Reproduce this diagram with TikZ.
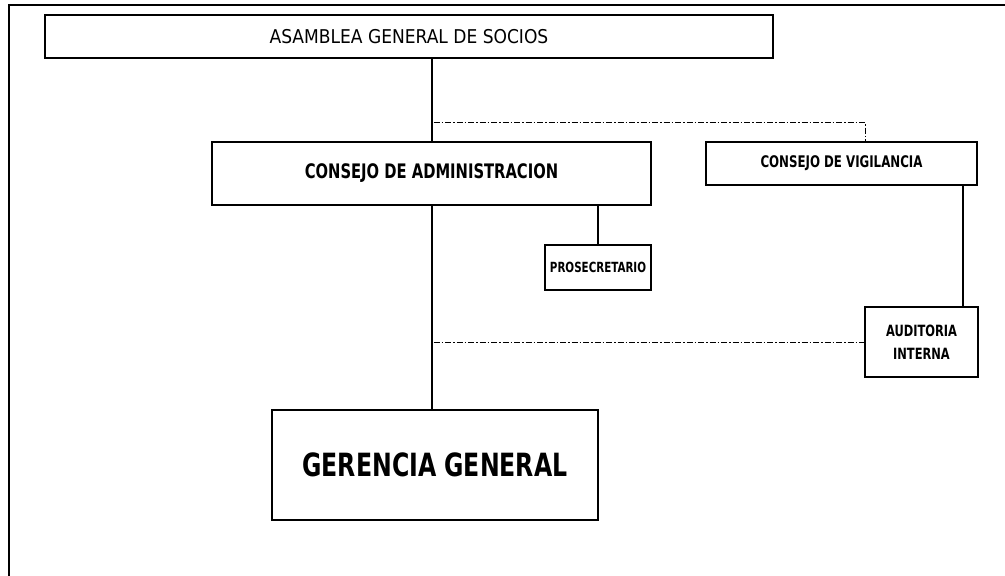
\documentclass[tikz,border=0pt]{standalone}
\usepackage{fontspec}
\setmainfont{DejaVu Sans Condensed}
\newfontfamily\narrowf{DejaVu Sans Condensed}[FakeStretch=0.82]
\usetikzlibrary{calc}
\begin{document}
\begin{tikzpicture}[x=1pt,y=-1pt,
  box/.style={draw,line width=2.2pt,inner sep=0pt,align=center},
  conn/.style={line width=2pt},
  dd/.style={line width=1pt,dash pattern=on 6pt off 2pt on 1.5pt off 2pt}]
\useasboundingbox (0,0) rectangle (1005,576);
\draw[line width=1.8pt] (9,576) -- (9,5) -- (1005,5);
\node[box,font=\fontsize{19}{21}\selectfont,minimum width=728pt,minimum height=43pt] (asm) at (409,36.5) {ASAMBLEA GENERAL DE SOCIOS};
\node[box,font=\narrowf\bfseries\fontsize{20}{22}\selectfont,minimum width=439pt,minimum height=63pt] (ca) at (431.5,173.5) {CONSEJO DE ADMINISTRACION};
\node[box,font=\narrowf\bfseries\fontsize{16}{18}\selectfont,minimum width=271pt,minimum height=43pt] (cv) at (841.5,163.5) {CONSEJO DE VIGILANCIA};
\node[box,font=\narrowf\bfseries\fontsize{14}{16}\selectfont,minimum width=106pt,minimum height=45pt] (pro) at (598,267.5) {PROSECRETARIO};
\node[box,font=\narrowf\bfseries\fontsize{15.5}{23}\selectfont,minimum width=113pt,minimum height=70pt] (aud) at (921.5,342) {AUDITORIA\\INTERNA};
\node[box,font=\narrowf\bfseries\fontsize{32}{36}\selectfont,minimum width=326pt,minimum height=110pt] (gg) at (435,465) {GERENCIA GENERAL};
\coordinate (d1) at (865,122);
\draw[conn] (ca.north |- asm.south) -- (ca.north);
\draw[conn] (ca.south) -- (ca.south |- gg.north);
\draw[conn] (pro.north |- ca.south) -- (pro.north);
\draw[conn] ($(cv.south)+(121.5,0)$) -- ($(aud.north)+(41.5,0)$);
\draw[dd] ([xshift=2pt]ca.north |- d1) -- (d1) -- (d1 |- cv.north);
\draw[dd] ([xshift=2pt]ca.south |- aud.west) -- (aud.west);
\end{tikzpicture}
\end{document}
